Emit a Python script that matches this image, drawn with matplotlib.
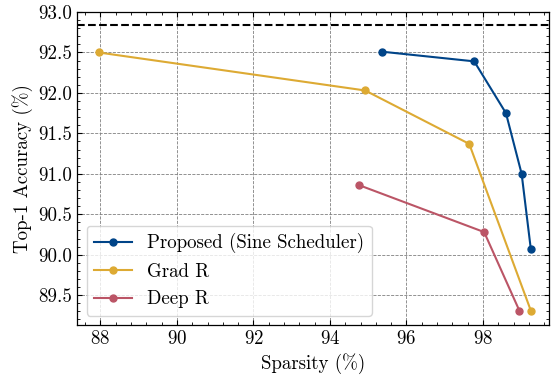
import matplotlib
matplotlib.use('Agg')
import matplotlib.pyplot as plt
from matplotlib.ticker import AutoMinorLocator

# данные
proposed_x = [95.35, 97.77, 98.60, 99.01, 99.25]
proposed_y = [92.51, 92.39, 91.75, 91.00, 90.07]
grad_x = [87.95, 94.92, 97.64, 99.25]
grad_y = [92.50, 92.03, 91.37, 89.31]
deep_x = [94.76, 98.03, 98.95]
deep_y = [90.86, 90.28, 89.31]
baseline = 92.84

plt.rcParams['font.family'] = 'serif'
plt.rcParams['font.serif'] = ['cmr10', 'DejaVu Serif']
plt.rcParams['mathtext.fontset'] = 'cm'
plt.rcParams['axes.formatter.use_mathtext'] = True
plt.rcParams['font.size'] = 13.6

fig, ax = plt.subplots(figsize=(5.51, 3.75), dpi=100)
fig.subplots_adjust(left=0.14, right=0.996, top=0.968, bottom=0.133)

ax.plot(proposed_x, proposed_y, '-o', color='#004488', lw=1.5, ms=5, label='Proposed (Sine Scheduler)')
ax.plot(grad_x, grad_y, '-o', color='#DDAA33', lw=1.5, ms=5, label='Grad R')
ax.plot(deep_x, deep_y, '-o', color='#BB5566', lw=1.5, ms=5, label='Deep R')
ax.axhline(baseline, color='black', ls='--', lw=1.5)

ax.set_xlim(87.39, 99.72)
ax.set_ylim(89.13, 93.0)
ax.set_xticks([88, 90, 92, 94, 96, 98])
ax.set_yticks([89.5, 90.0, 90.5, 91.0, 91.5, 92.0, 92.5, 93.0])
ax.set_yticklabels(['89.5', '90.0', '90.5', '91.0', '91.5', '92.0', '92.5', '93.0'])
ax.xaxis.set_minor_locator(AutoMinorLocator(5))
ax.yaxis.set_minor_locator(AutoMinorLocator(5))
ax.tick_params(which='both', direction='in', top=True, right=True)
ax.tick_params(which='major', length=3.5, width=0.8)
ax.tick_params(which='minor', length=2, width=0.6)
for s in ax.spines.values():
    s.set_linewidth(0.9)

ax.grid(True, which='major', color='gray', ls='--', lw=0.6)

ax.set_xlabel('Sparsity (%)')
ax.set_ylabel('Top-1 Accuracy (%)')
ax.legend(loc='lower left', frameon=True, handlelength=2.0)

plt.savefig('out.png', dpi=100)
